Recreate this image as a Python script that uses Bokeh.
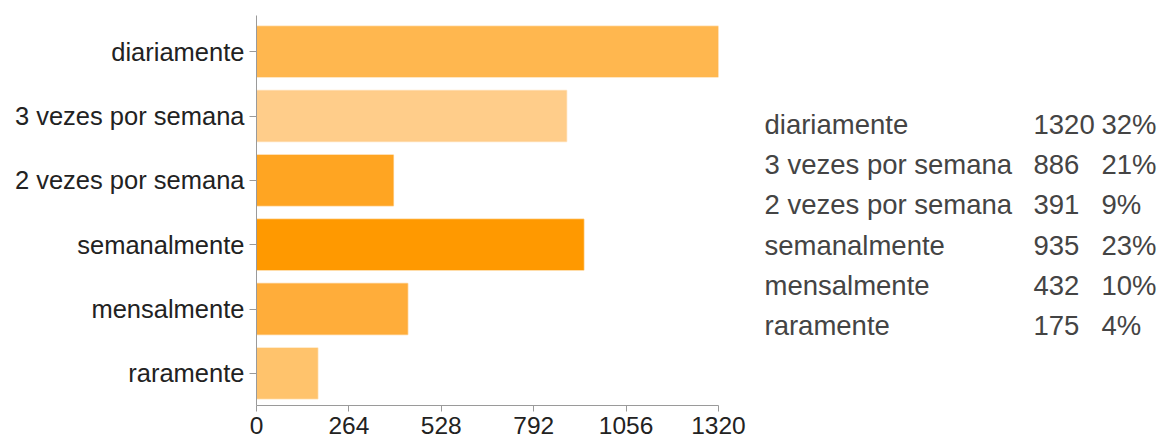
from bokeh.plotting import figure
from bokeh.layouts import row
from bokeh.models import Range1d, FixedTicker, ColumnDataSource
from bokeh.core.properties import value
from bokeh.embed import file_html
from bokeh.resources import INLINE

categories = ["diariamente", "3 vezes por semana", "2 vezes por semana",
              "semanalmente", "mensalmente", "raramente"]
counts = [1320, 886, 391, 935, 432, 175]
percents = ["32%", "21%", "9%", "23%", "10%", "4%"]
colors = ["#FFB74F", "#FFCD8A", "#FFA522", "#FF9900", "#FFAD3A", "#FFC36C"]
x_ticks = [0, 264, 528, 792, 1056, 1320]

FONT = "Liberation Sans"

idx = list(range(len(categories)))
src = ColumnDataSource(dict(y=idx, right=counts, color=colors, cat=categories))

p = figure(width=750, height=437, output_backend="svg", toolbar_location=None,
           x_range=Range1d(0, 1320), y_range=Range1d(5.5, -0.5 - 4 / 64.3),
           min_border_left=256, min_border_right=32, min_border_top=15,
           min_border_bottom=32)
p.hbar(y="y", left=0, right="right", height=0.79, fill_color="color",
       line_color="color", line_alpha=0.45, line_width=1.5, source=src)

p.outline_line_color = None
p.xgrid.visible = False
p.ygrid.visible = False
p.background_fill_color = "white"
p.border_fill_color = "white"

xa = p.xaxis[0]
xa.ticker = FixedTicker(ticks=x_ticks)
xa.major_tick_out = 6
xa.major_tick_in = 0
xa.minor_tick_out = 0
xa.minor_tick_in = 0
xa.axis_line_color = "#9a9a9a"
xa.major_tick_line_color = "#9a9a9a"
xa.major_label_text_font = FONT
xa.major_label_text_font_size = "24.5px"
xa.major_label_text_color = "#222222"
xa.major_label_standoff = 5

ya = p.yaxis[0]
ya.ticker = FixedTicker(ticks=idx)
ya.major_label_overrides = {i: c for i, c in zip(idx, categories)}
ya.major_tick_out = 7
ya.major_tick_in = 0
ya.minor_tick_out = 0
ya.minor_tick_in = 0
ya.axis_line_color = "#9a9a9a"
ya.major_tick_line_color = "#9a9a9a"
ya.major_label_text_font = FONT
ya.major_label_text_font_size = "25.5px"
ya.major_label_text_color = "#222222"
ya.major_label_standoff = 5

# right-hand table (frame aligned with the bar chart frame: screen y 15..405)
t = figure(width=407, height=437, output_backend="svg", toolbar_location=None,
           x_range=Range1d(0, 407), y_range=Range1d(405, 15),
           x_axis_location=None, y_axis_location=None,
           min_border_left=0, min_border_right=0, min_border_top=15,
           min_border_bottom=32)
t.grid.visible = False
t.outline_line_color = None
t.background_fill_color = "white"
t.border_fill_color = "white"

row_y = [124 + 40.2 * i for i in idx]
tsrc = ColumnDataSource(dict(
    y=row_y, cat=categories,
    cnt=[str(c) for c in counts], pct=percents))
common = dict(y="y", text_font=value(FONT), text_font_size="27.5px",
              text_color="#444444", text_baseline="alphabetic",
              text_align="left", source=tsrc)
t.text(x=14, text="cat", **common)
t.text(x=283, text="cnt", **common)
t.text(x=351, text="pct", **common)

layout = row(p, t)
open("out.html", "w").write(file_html(layout, INLINE))
